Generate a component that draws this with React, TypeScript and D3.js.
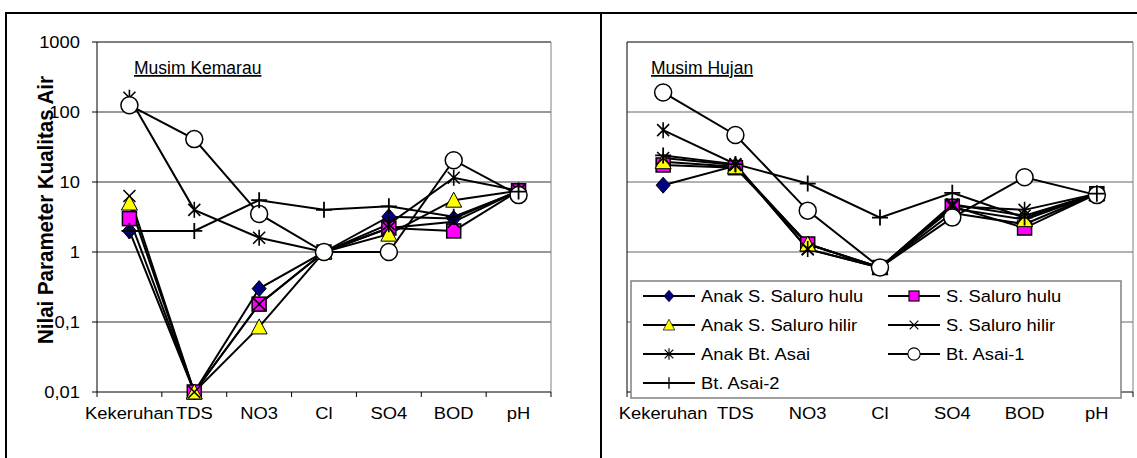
import React from "react";
import * as d3 from "d3";

const categories = ["Kekeruhan", "TDS", "NO3", "Cl", "SO4", "BOD", "pH"];
const seriesNames = [
  "Anak S. Saluro hulu",
  "S. Saluro hulu",
  "Anak S. Saluro hilir",
  "S. Saluro hilir",
  "Anak Bt. Asai",
  "Bt. Asai-1",
  "Bt. Asai-2",
];
const yTicks = [1000, 100, 10, 1, 0.1, 0.01];
const yTickLabels = ["1000", "100", "10", "1", "0,1", "0,01"];

// Musim Kemarau (dry season)
const dryAnakSaluroHulu = [2, 0.01, 0.3, 1, 3.2, 3, 7.5];
const drySaluroHulu = [3, 0.01, 0.18, 1, 2.2, 2, 7.5];
const dryAnakSaluroHilir = [5, 0.01, 0.085, 1, 1.8, 5.5, 7.5];
const drySaluroHilir = [6.3, 0.01, 0.18, 1, 2.2, 2.7, 7.5];
const dryAnakAsai = [160, 4, 1.6, 1, 2.5, 11.5, 7.5];
const dryAsai1 = [125, 41, 3.5, 1, 1, 20.5, 6.5];
const dryAsai2 = [2, 2, 5.5, 4, 4.5, 3.2, 7.3];

// Musim Hujan (wet season)
const wetAnakSaluroHulu = [9, 17, 1.3, 0.6, 3.6, 2.5, 6.8];
const wetSaluroHulu = [17.5, 16, 1.3, 0.6, 4.5, 2.2, 6.8];
const wetAnakSaluroHilir = [19.5, 16.5, 1.3, 0.6, 4.2, 2.9, 6.8];
const wetSaluroHilir = [22, 17.5, 1.1, 0.6, 4.8, 3.3, 6.8];
const wetAnakAsai = [55, 18, 1.1, 0.6, 4.5, 4, 6.8];
const wetAsai1 = [190, 47, 3.9, 0.6, 3.1, 11.7, 6.5];
const wetAsai2 = [24, 18, 9.5, 3.1, 7, 3.1, 6.8];

const drySeries = [dryAnakSaluroHulu, drySaluroHulu, dryAnakSaluroHilir, drySaluroHilir, dryAnakAsai, dryAsai1, dryAsai2];
const wetSeries = [wetAnakSaluroHulu, wetSaluroHulu, wetAnakSaluroHilir, wetSaluroHilir, wetAnakAsai, wetAsai1, wetAsai2];

const FONT = "Liberation Sans, Arial, sans-serif";
const SX = 1.08; // text looks a bit wide in the picture
const FS = 17;

// marker drawing, one per series
const Marker = ({ i, x, y, s = 1 }: { i: number; x: number; y: number; s?: number }) => {
  const t = `translate(${x},${y}) scale(${s})`;
  if (i === 0) return <path transform={t} d="M0,-8L7,0L0,8L-7,0Z" fill="#000080" stroke="#000" strokeWidth={1} />;
  if (i === 1) return <rect transform={t} x={-7} y={-7} width={14} height={14} fill="#ff00ff" stroke="#000" strokeWidth={1.5} />;
  if (i === 2) return <path transform={t} d="M0,-8L8,7L-8,7Z" fill="#ffff00" stroke="#000" strokeWidth={1} />;
  if (i === 3) return <path transform={t} d="M-6,-6L6,6M-6,6L6,-6" stroke="#000" strokeWidth={1.6} fill="none" />;
  if (i === 4)
    return <path transform={t} d="M-6,-6L6,6M-6,6L6,-6M0,-8L0,8" stroke="#000" strokeWidth={1.6} fill="none" />;
  if (i === 5) return <circle transform={t} r={8.5} fill="#fff" stroke="#000" strokeWidth={1.5} />;
  return <path transform={t} d="M-8,0L8,0M0,-8L0,8" stroke="#000" strokeWidth={1.8} fill="none" />;
};

const Panel = ({
  data,
  left,
  right,
  title,
  showY,
  gridColor,
}: {
  data: number[][];
  left: number;
  right: number;
  title: string;
  showY: boolean;
  gridColor: string;
}) => {
  const top = 42;
  const bottom = 392;
  const x = d3.scaleBand().domain(categories).range([left, right]);
  const y = d3.scaleLog().domain([0.01, 1000]).range([bottom, top]);
  const cx = (c: string) => (x(c) as number) + x.bandwidth() / 2;
  const line = d3
    .line<number>()
    .x((_, k) => cx(categories[k]))
    .y((v) => y(v));
  const titleX = left + (showY ? 37 : 24);

  return (
    <g>
      {yTicks.slice(1, 5).map((t) => (
        <line key={t} x1={left} x2={right} y1={y(t)} y2={y(t)} stroke={gridColor} strokeWidth={1} />
      ))}
      <line x1={left} x2={right} y1={top} y2={top} stroke="#000" />
      <line x1={right} x2={right} y1={top} y2={bottom} stroke="#808080" />
      <line x1={left} x2={right} y1={bottom} y2={bottom} stroke="#000" />
      <line x1={left} x2={left} y1={top} y2={bottom} stroke="#000" />
      {categories.map((c) => (
        <line key={c} x1={x(c)} x2={x(c)} y1={bottom} y2={bottom + 5} stroke="#000" />
      ))}
      <line x1={right} x2={right} y1={bottom} y2={bottom + 5} stroke="#000" />
      {showY &&
        yTicks.map((t, k) => (
          <g key={t}>
            <line x1={left - 5} x2={left} y1={y(t)} y2={y(t)} stroke="#000" />
            <text
              transform={`translate(${left - 17},${y(t) + 6}) scale(${SX},1)`}
              textAnchor="end"
              fontFamily={FONT}
              fontSize={FS}
            >
              {yTickLabels[k]}
            </text>
          </g>
        ))}
      {categories.map((c) => (
        <text
          key={c}
          transform={`translate(${cx(c)},${419}) scale(${SX},1)`}
          textAnchor="middle"
          fontFamily={FONT}
          fontSize={FS}
        >
          {c}
        </text>
      ))}
      <text x={titleX} y={74} fontFamily={FONT} fontSize={17.5} textDecoration="underline">
        {title}
      </text>
      {data.map((s, i) => (
        <path key={i} d={line(s) || ""} fill="none" stroke="#000" strokeWidth={2} />
      ))}
      {data.map((s, i) => (
        <g key={i}>
          {s.map((v, k) => (
            <Marker key={k} i={i} x={cx(categories[k])} y={y(v)} />
          ))}
        </g>
      ))}
    </g>
  );
};

const Legend = () => {
  const lx = 631;
  const ly = 281;
  const colX = [643, 888];
  const rowY = [296, 325, 354, 383];
  return (
    <g>
      <rect x={lx} y={ly} width={490} height={117} fill="#fff" stroke="#808080" strokeWidth={1.5} />
      {seriesNames.map((n, i) => {
        const cx0 = colX[i % 2];
        const cy = rowY[Math.floor(i / 2)];
        return (
          <g key={n}>
            <line x1={cx0} x2={cx0 + 52} y1={cy} y2={cy} stroke="#000" strokeWidth={2} />
            <Marker i={i} x={cx0 + 26} y={cy} s={0.72} />
            <text
              transform={`translate(${cx0 + 58},${cy + 6}) scale(${SX},1)`}
              fontFamily={FONT}
              fontSize={FS}
            >
              {n}
            </text>
          </g>
        );
      })}
    </g>
  );
};

export default function App() {
  return (
    <svg width={1137} height={458} style={{ position: "absolute", left: 0, top: 0, background: "#fff" }}>
      <rect x={0} y={0} width={1137} height={458} fill="#fff" />
      <line x1={6} x2={1137} y1={13} y2={13} stroke="#000" strokeWidth={2} />
      <line x1={6} x2={6} y1={12} y2={458} stroke="#000" strokeWidth={2} />
      <line x1={601} x2={601} y1={12} y2={458} stroke="#000" strokeWidth={2} />
      <Panel data={drySeries} left={97} right={551} title="Musim Kemarau" showY gridColor="#333" />
      <Panel data={wetSeries} left={627} right={1133} title="Musim Hujan" showY={false} gridColor="#666" />
      <Legend />
      <text
        transform={`translate(53,210) scale(${SX},1) rotate(-90)`}
        textAnchor="middle"
        fontFamily={FONT}
        fontSize={20.5}
        fontWeight="bold"
      >
        Nilai Parameter Kualitas Air
      </text>
    </svg>
  );
}
